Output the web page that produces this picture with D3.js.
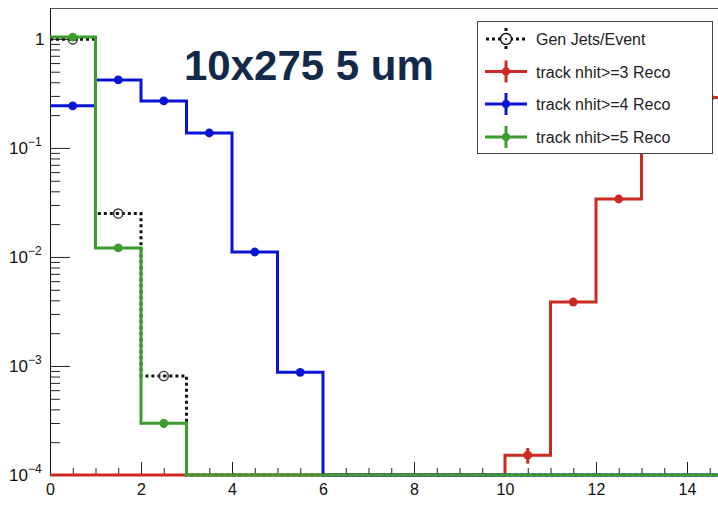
<!DOCTYPE html>
<html>
<head>
<meta charset="utf-8">
<script src="https://cdn.jsdelivr.net/npm/d3@7"></script>
<style>
  body { margin: 0; background: #fff; }
  svg { display: block; font-family: "Liberation Sans", Arial, Helvetica, sans-serif; }
</style>
</head>
<body>
<svg id="chart" width="718" height="507"></svg>
<script>
// Jet multiplicity per event, 15 unit-wide bins starting at 0
const binEdges = d3.range(0, 16);
const genJets = [0.99, 0.025, 8.1e-4, 0, 0, 0, 0, 0, 0, 0, 0, 0, 0, 0, 0];
const nhit3 = [0, 0, 0, 0, 0, 0, 0, 0, 0, 0, 1.52e-4, 3.86e-3, 0.034, 0.12, 0.29];
const nhit3Err = [0, 0, 0, 0, 0, 0, 0, 0, 0, 0, 0.25e-4, 2e-4, 0.0012, 0.004, 0.008];
const nhit4 = [0.243, 0.42, 0.27, 0.137, 0.0111, 8.75e-4, 0, 0, 0, 0, 0, 0, 0, 0, 0];
const nhit4Err = [0.005, 0.007, 0.005, 0.003, 0.0005, 0.6e-4, 0, 0, 0, 0, 0, 0, 0, 0, 0];
const nhit5 = [1.04, 0.0121, 2.98e-4, 0, 0, 0, 0, 0, 0, 0, 0, 0, 0, 0, 0];
const nhit5Err = [0.01, 0.0006, 0.28e-4, 0, 0, 0, 0, 0, 0, 0, 0, 0, 0, 0, 0];

const xMajor = [0, 2, 4, 6, 8, 10, 12, 14];
const xMinor = d3.range(0, 15.01, 0.5).filter(v => v % 2 !== 0);
const yMajor = [1e-4, 1e-3, 1e-2, 1e-1, 1];
const yTickLabels = [["10", "\u22124"], ["10", "\u22123"], ["10", "\u22122"], ["10", "\u22121"], ["1", ""]];
const legendLabels = ["Gen Jets/Event", "track nhit>=3 Reco", "track nhit>=4 Reco", "track nhit>=5 Reco"];
const titleText = "10x275 5 um";

const colors = { gen: "#111111", red: "#cc2b22", blue: "#0a14d4", green: "#3c9c2e" };

const svg = d3.select("#chart");
const x = d3.scaleLinear().domain([0, 15]).range([50, 732.5]);
const y = d3.scaleLog().domain([1e-4, 1.92]).range([475, 8]);
const yFloor = y(1e-4);
const yPos = v => v > 0 ? y(v) : yFloor;

// frame (top edge)
svg.append("line").attr("x1", 50).attr("x2", 732).attr("y1", 8.5).attr("y2", 8.5)
  .attr("stroke", "#555").attr("stroke-width", 1);

// x axis: major and minor ticks pointing into the plot
const xAxisMajor = d3.axisBottom(x).tickValues(xMajor).tickSizeInner(-13).tickSizeOuter(0)
  .tickPadding(9).tickFormat(d3.format("d"));
const gx = svg.append("g").attr("transform", `translate(0,${yFloor})`).call(xAxisMajor);
gx.select(".domain").attr("stroke", "#222");
gx.selectAll(".tick line").attr("stroke", "#222");
gx.selectAll("text").attr("font-size", 16).attr("fill", "#111")
  .attr("font-family", "'Liberation Sans', Arial, sans-serif");
const gxMinor = svg.append("g").attr("transform", `translate(0,${yFloor})`)
  .call(d3.axisBottom(x).tickValues(xMinor).tickSizeInner(-7).tickSizeOuter(0).tickFormat(""));
gxMinor.select(".domain").remove();
gxMinor.selectAll(".tick line").attr("stroke", "#222");

// y axis (log): decades plus 2..9 minor ticks
const yMinor = [];
[1e-4, 1e-3, 1e-2, 1e-1, 1].forEach(d => { for (let k = 2; k <= 9; k++) if (d * k < 1.92) yMinor.push(d * k); });
const gy = svg.append("g").attr("transform", "translate(50,0)")
  .call(d3.axisLeft(y).tickValues(yMajor).tickSizeInner(-20).tickSizeOuter(0).tickFormat(""));
gy.select(".domain").attr("stroke", "#111");
gy.selectAll(".tick line").attr("stroke", "#222");
const gyMinor = svg.append("g").attr("transform", "translate(50,0)")
  .call(d3.axisLeft(y).tickValues(yMinor).tickSizeInner(-10).tickSizeOuter(0).tickFormat(""));
gyMinor.select(".domain").remove();
gyMinor.selectAll(".tick line").attr("stroke", "#222");

// y labels with superscript exponents
yMajor.forEach((v, i) => {
  const [base, exp] = yTickLabels[i];
  const t = svg.append("text").attr("y", y(v) + 6).attr("fill", "#111").attr("font-size", 17);
  if (exp) {
    t.attr("x", 9);
    t.append("tspan").text(base);
    t.append("tspan").attr("font-size", 12).attr("dy", -8).text(exp);
  } else {
    t.attr("x", 35).text(base);
  }
});

// histogram outlines
const stepLine = d3.line().x(d => x(d[0])).y(d => yPos(d[1])).curve(d3.curveStepAfter);
function drawHist(values, color, dashed) {
  const pts = values.map((v, i) => [binEdges[i], v]);
  pts.push([binEdges[binEdges.length - 1], values[values.length - 1]]);
  svg.append("path").datum(pts).attr("d", stepLine)
    .attr("fill", "none").attr("stroke", color).attr("stroke-width", 3)
    .attr("stroke-dasharray", dashed ? "3,3" : null);
}
function drawPoints(values, errs, color, open) {
  values.forEach((v, i) => {
    if (!(v > 0)) return;
    const cx = x(binEdges[i] + 0.5);
    if (errs && errs[i] > 0) {
      svg.append("line").attr("x1", cx).attr("x2", cx)
        .attr("y1", y(v + errs[i])).attr("y2", y(Math.max(v - errs[i], 1e-6)))
        .attr("stroke", color).attr("stroke-width", 3);
    }
    if (open) {
      svg.append("circle").attr("cx", cx).attr("cy", y(v)).attr("r", 4.6)
        .attr("fill", "none").attr("stroke", "#333").attr("stroke-width", 1.4);
      svg.append("circle").attr("cx", cx).attr("cy", y(v)).attr("r", 1).attr("fill", color);
    } else {
      svg.append("circle").attr("cx", cx).attr("cy", y(v)).attr("r", 4.4).attr("fill", color);
    }
  });
}

drawHist(genJets, colors.gen, true);
drawPoints(genJets, null, colors.gen, true);
drawHist(nhit3, colors.red, false);
drawPoints(nhit3, nhit3Err, colors.red, false);
drawHist(nhit4, colors.blue, false);
drawPoints(nhit4, nhit4Err, colors.blue, false);
drawHist(nhit5, colors.green, false);
drawPoints(nhit5, nhit5Err, colors.green, false);

// title
svg.append("text").attr("x", 184).attr("y", 80).attr("font-size", 42).attr("font-weight", "bold")
  .attr("fill", "#13294a").text(titleText);

// legend
const lg = svg.append("g");
lg.append("rect").attr("x", 477.5).attr("y", 21.5).attr("width", 235).attr("height", 132)
  .attr("fill", "#fff").attr("stroke", "#444").attr("stroke-width", 1);
const rowY = [39, 71.5, 104, 137];
const legendColors = [colors.gen, colors.red, colors.blue, colors.green];
legendLabels.forEach((label, i) => {
  const cy = rowY[i], c = legendColors[i];
  if (i === 0) {
    lg.append("line").attr("x1", 486).attr("x2", 527).attr("y1", cy).attr("y2", cy)
      .attr("stroke", c).attr("stroke-width", 3).attr("stroke-dasharray", "3,3");
    lg.append("line").attr("x1", 506).attr("x2", 506).attr("y1", cy - 11).attr("y2", cy + 11)
      .attr("stroke", c).attr("stroke-width", 3).attr("stroke-dasharray", "3,3");
    lg.append("circle").attr("cx", 506).attr("cy", cy).attr("r", 5.5)
      .attr("fill", "#fff").attr("stroke", c).attr("stroke-width", 1.4);
    lg.append("circle").attr("cx", 506).attr("cy", cy).attr("r", 1).attr("fill", c);
  } else {
    lg.append("line").attr("x1", 485).attr("x2", 527).attr("y1", cy).attr("y2", cy)
      .attr("stroke", c).attr("stroke-width", 3);
    lg.append("line").attr("x1", 506).attr("x2", 506).attr("y1", cy - 11).attr("y2", cy + 11)
      .attr("stroke", c).attr("stroke-width", 3);
    lg.append("circle").attr("cx", 506).attr("cy", cy).attr("r", 4).attr("fill", c);
  }
  lg.append("text").attr("x", 536).attr("y", cy + 6).attr("font-size", 16).attr("fill", "#222").text(label);
});
</script>
</body>
</html>
